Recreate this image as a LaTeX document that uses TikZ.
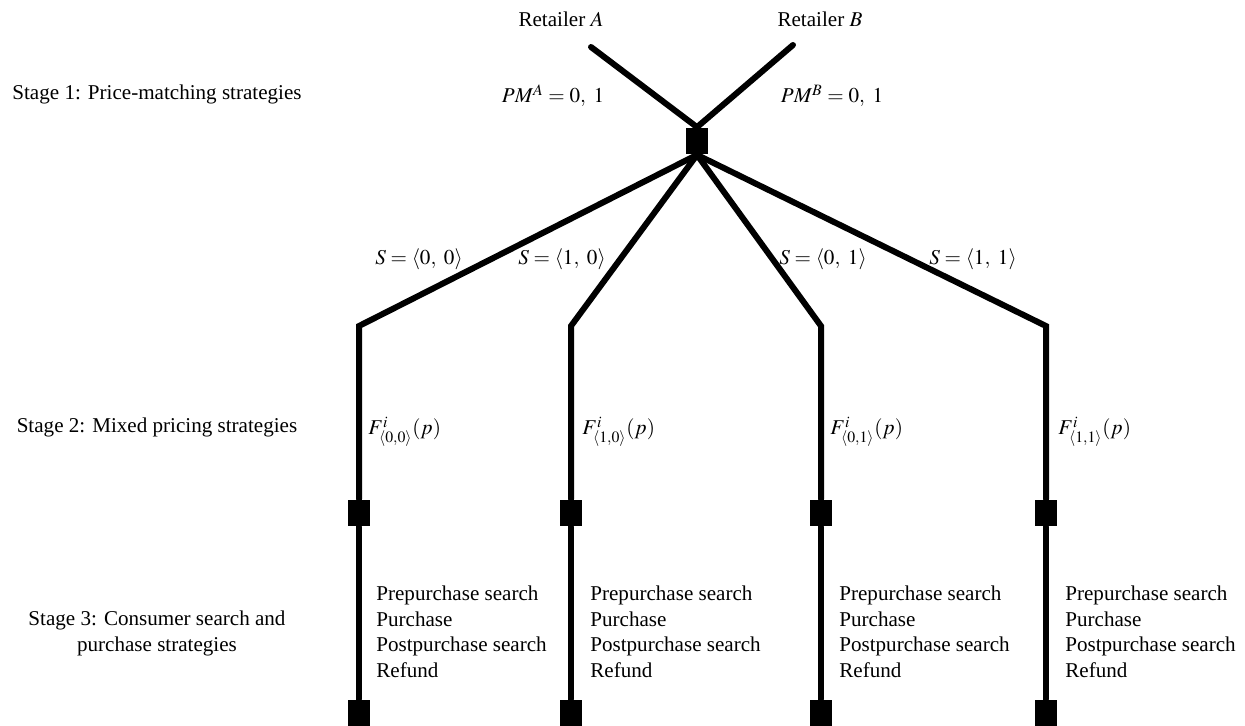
\documentclass[tikz,border=0pt]{standalone}
\usepackage{mathptmx}
\usepackage[no-math]{fontspec}
\setmainfont{Liberation Serif}
\usetikzlibrary{positioning}

\begin{document}
\begin{tikzpicture}[
    x=0.02cm, y=-0.02cm,
    font=\fontsize{12}{14.5}\selectfont,
    decision/.style={rectangle, fill=black, inner sep=0pt, minimum width=0.44cm, minimum height=0.54cm},
    branch/.style={line width=0.12cm, black, line cap=round},
    txt/.style={inner sep=0pt, anchor=base},
    ftxt/.style={inner sep=0pt, anchor=base west},
    acts/.style={inner sep=0pt, anchor=north west, align=left},
    stage/.style={inner sep=0pt, anchor=base, align=center}
]
    \useasboundingbox (0,0) rectangle (1245,726);

    % stages
    \node[stage] (stage1) at (157,100) {Stage 1: Price-matching strategies};
    \node[stage] (stage2) at (157,433) {Stage 2: Mixed pricing strategies};
    \node[stage, anchor=north] (stage3) at (157,611) {Stage 3: Consumer search and\\purchase strategies};

    % decision nodes
    \node[decision] (root) at (697,141) {};
    \node[decision] (mid1) at (359,513) {};
    \node[decision] (mid2) at (571,513) {};
    \node[decision] (mid3) at (821,513) {};
    \node[decision] (mid4) at (1046,513) {};
    \node[decision] (leaf1) at (359,713) {};
    \node[decision] (leaf2) at (571,713) {};
    \node[decision] (leaf3) at (821,713) {};
    \node[decision] (leaf4) at (1046,713) {};

    \coordinate (endA) at (591,47);
    \coordinate (endB) at (793,45);
    \coordinate (k1) at (359,326);
    \coordinate (k2) at (571,326);
    \coordinate (k3) at (821,326);
    \coordinate (k4) at (1046,326);

    % retailers
    \node[txt] (retA) at (561,27) {Retailer $A$};
    \node[txt] (retB) at (820,27) {Retailer $B$};
    \node[txt] (pmA) at (553,103) {$PM^{A} = 0,\ 1$};
    \node[txt] (pmB) at (832,103) {$PM^{B} = 0,\ 1$};

    \draw[branch] (endA) -- (root.north);
    \draw[branch] (endB) -- (root.north);

    % price-matching outcomes
    \draw[branch] (root.south) -- (k1) -- (mid1);
    \draw[branch] (root.south) -- (k2) -- (mid2);
    \draw[branch] (root.south) -- (k3) -- (mid3);
    \draw[branch] (root.south) -- (k4) -- (mid4);

    \node[txt] (s1) at (419,265) {$S = \langle 0,\ 0\rangle$};
    \node[txt] (s2) at (562,265) {$S = \langle 1,\ 0\rangle$};
    \node[txt] (s3) at (823,265) {$S = \langle 0,\ 1\rangle$};
    \node[txt] (s4) at (973,265) {$S = \langle 1,\ 1\rangle$};

    \node[ftxt] (f1) at (368,435) {$F^{i}_{\langle 0,0\rangle}(p)$};
    \node[ftxt] (f2) at (582,435) {$F^{i}_{\langle 1,0\rangle}(p)$};
    \node[ftxt] (f3) at (830,435) {$F^{i}_{\langle 0,1\rangle}(p)$};
    \node[ftxt] (f4) at (1058,435) {$F^{i}_{\langle 1,1\rangle}(p)$};

    % consumer stage
    \draw[branch] (mid1) -- (leaf1);
    \draw[branch] (mid2) -- (leaf2);
    \draw[branch] (mid3) -- (leaf3);
    \draw[branch] (mid4) -- (leaf4);

    \node[acts] (act1) at (376,586) {Prepurchase search\\Purchase\\Postpurchase search\\Refund};
    \node[acts] (act2) at (590,586) {Prepurchase search\\Purchase\\Postpurchase search\\Refund};
    \node[acts] (act3) at (839,586) {Prepurchase search\\Purchase\\Postpurchase search\\Refund};
    \node[acts] (act4) at (1065,586) {Prepurchase search\\Purchase\\Postpurchase search\\Refund};
\end{tikzpicture}
\end{document}
